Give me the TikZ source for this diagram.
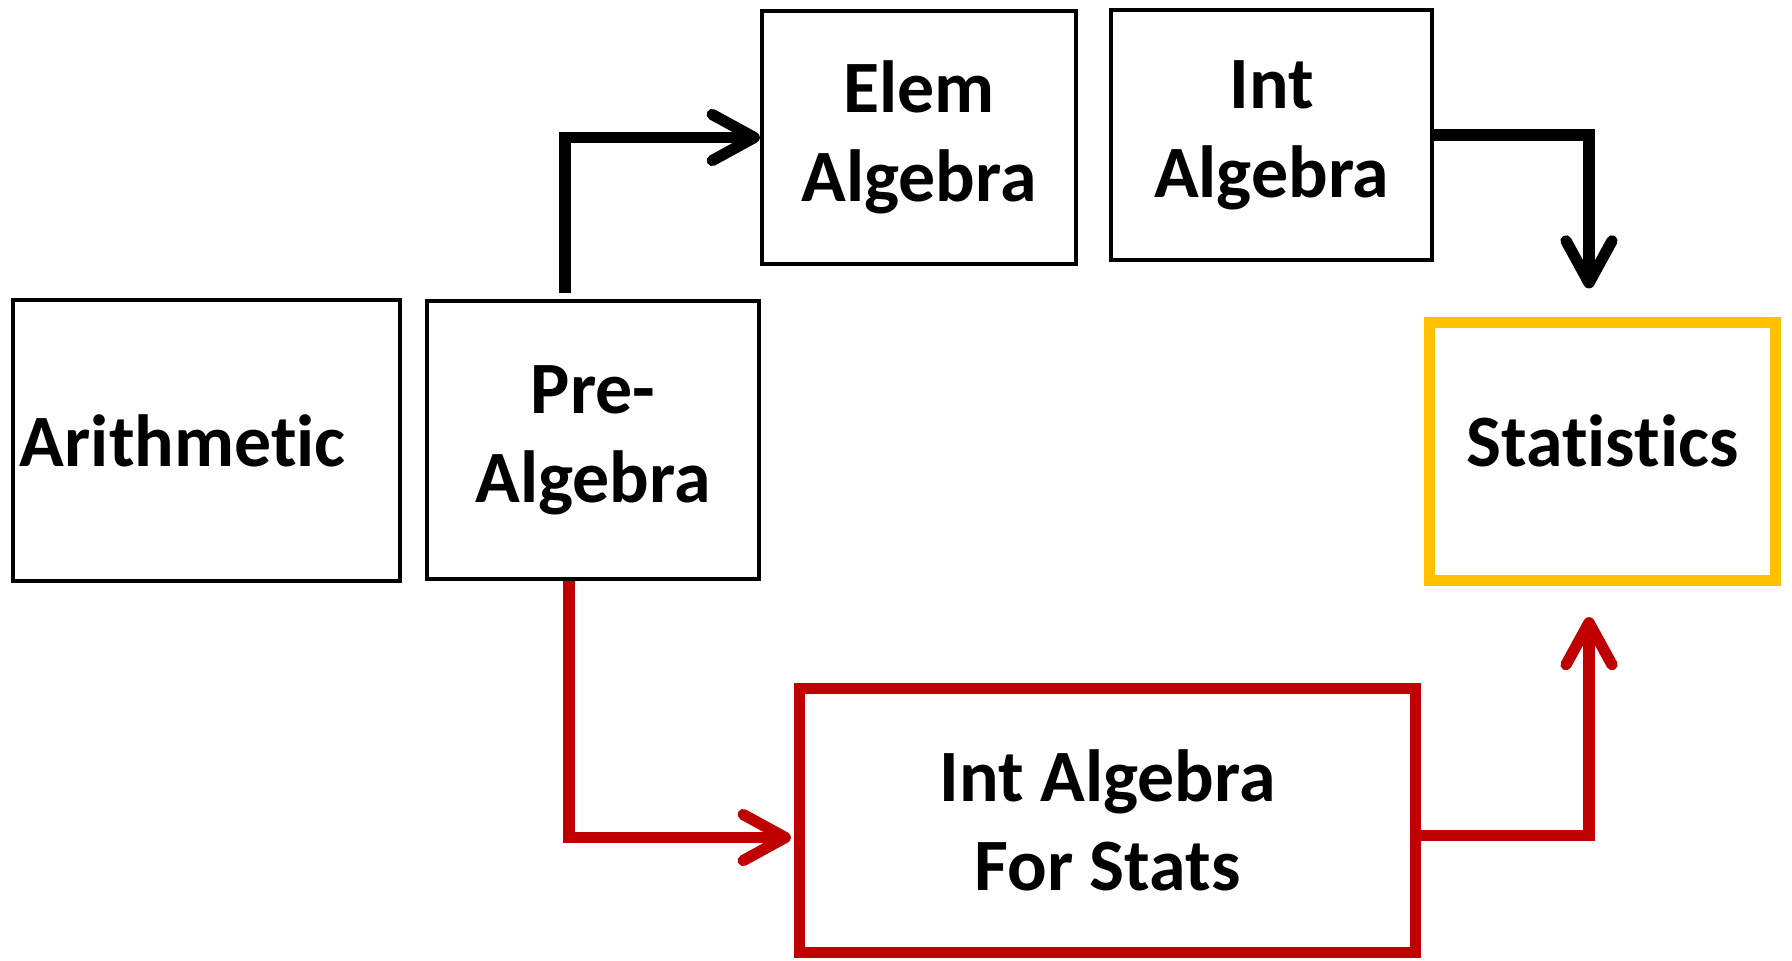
\documentclass[tikz,border=0pt]{standalone}
\usepackage{fontspec}
\setmainfont[Ligatures={NoCommon}]{Carlito}
\usepackage{tikz}
\usetikzlibrary{arrows.meta}
\definecolor{cqqqqq}{rgb}{0.7529411764705882,0.,0.}
\definecolor{ffcqqq}{rgb}{1.,0.7529411764705882,0.}
\tikzstyle{every node}=[font=\fontsize{21}{25.3}\selectfont\bfseries]
\tikzstyle{course}=[draw,line width=1.15pt,align=center,inner sep=0pt]
\tikzstyle{bigcourse}=[course,line width=3.1pt]
\tikzstyle{link}=[-{Straight Barb[length=4.2mm,width=4.6mm,round]},line width=3.2pt]

\begin{document}
\begin{tikzpicture}[x=0.01cm,y=-0.01cm]
            \useasboundingbox (0,0) rectangle (1792,960);
            \node [course,align=left,text width=3.73cm,inner xsep=0.07cm,minimum height=2.81cm] (arith) at (206.5,440.5) {Arithmetic};
            \node [course,minimum width=3.32cm,minimum height=2.78cm] (pre) at (593,440) {Pre-\\Algebra};
            \node [course,minimum width=3.14cm,minimum height=2.53cm] (elem) at (919,137.5) {Elem\\Algebra};
            \node [course,minimum width=3.21cm,minimum height=2.50cm] (intalg) at (1271.5,135) {Int\\Algebra};
            \node [bigcourse,draw=ffcqqq,minimum width=3.46cm,minimum height=2.58cm,text depth=0.22cm] (stat) at (1602.5,451.5) {Statistics};
            \node [bigcourse,draw=cqqqqq,minimum width=6.16cm,minimum height=2.64cm] (iafs) at (1107.5,820.5) {Int Algebra\\For Stats};
            \draw [link,shorten <=0.06cm] ([xshift=-0.28cm]pre.north) |- (elem.west);
            \draw [link,shorten >=0.285cm] (intalg.east) -| ([xshift=-0.135cm]stat.north);
            \draw [link,color=cqqqqq,shorten >=0.03cm] ([xshift=-0.24cm]pre.south) |- ([yshift=-0.17cm]iafs.west);
            \draw [link,color=cqqqqq,shorten >=0.31cm] ([yshift=-0.15cm]iafs.east) -| ([xshift=-0.135cm]stat.south);
\end{tikzpicture}
\end{document}
